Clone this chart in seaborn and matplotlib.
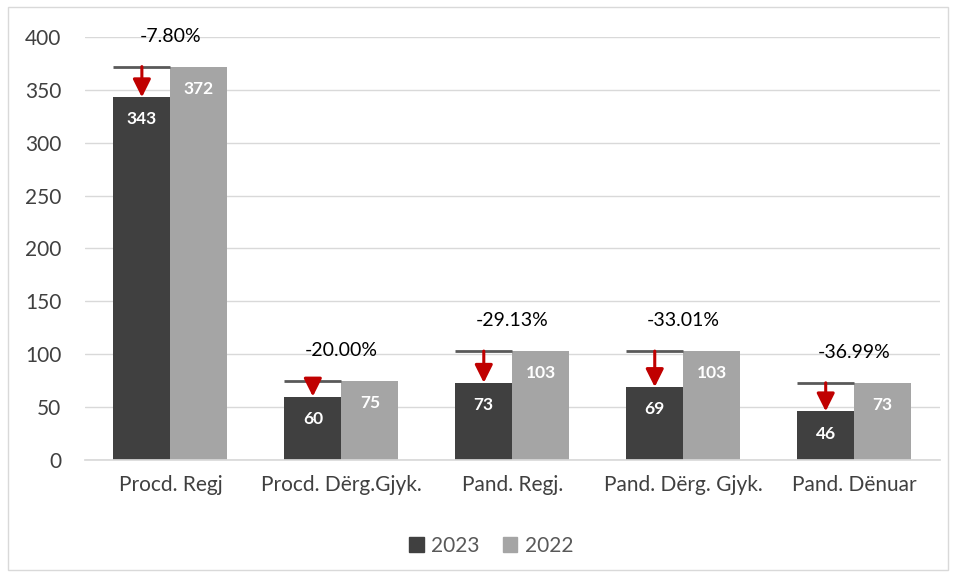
import matplotlib
matplotlib.use("Agg")
import matplotlib.pyplot as plt
from matplotlib.patches import Rectangle
import pandas as pd
import seaborn as sns

categories = ["Procd. Regj", "Procd. Dërg.Gjyk.", "Pand. Regj.", "Pand. Dërg. Gjyk.", "Pand. Dënuar"]
values_2023 = [343, 60, 73, 69, 46]
values_2022 = [372, 75, 103, 103, 73]
series = ["2023", "2022"]
colors = {"2023": "#404040", "2022": "#A5A5A5"}
y_ticks = [0, 50, 100, 150, 200, 250, 300, 350, 400]

df = pd.DataFrame({
    "category": categories * 2,
    "year": [series[0]] * len(categories) + [series[1]] * len(categories),
    "value": values_2023 + values_2022,
})

sns.set_theme(style="white")
plt.rcParams["font.family"] = ["Lato", "DejaVu Sans"]

fig = plt.figure(figsize=(9.54, 5.77), dpi=100)
ax = fig.add_axes([0.089, 0.2028, 0.896, 0.7331])

sns.barplot(data=df, x="category", y="value", hue="year", hue_order=series,
            palette=colors, width=0.667, saturation=1, ax=ax, legend=False,
            edgecolor="none", linewidth=0)

ax.set_ylim(0, 400)
ax.set_yticks(y_ticks)
ax.set_xlim(-0.5, len(categories) - 0.5)
ax.yaxis.grid(True, color="#D9D9D9", linewidth=1)
ax.set_axisbelow(True)
for s in ["top", "right", "left"]:
    ax.spines[s].set_visible(False)
ax.spines["bottom"].set_color("#D9D9D9")
ax.tick_params(axis="both", length=0, labelsize=15, colors="#404040")
ax.tick_params(axis="y", pad=17)
ax.tick_params(axis="x", pad=11)
ax.set_xlabel("")
ax.set_ylabel("")

bars_new = ax.containers[0]
bars_old = ax.containers[1]

for bar, v in zip(bars_new, values_2023):
    ax.annotate(f"{v}", (bar.get_x() + bar.get_width() / 2, v), xytext=(0, -16),
                textcoords="offset points", ha="center", va="center",
                color="white", fontweight="bold", fontsize=12.5)
for bar, v in zip(bars_old, values_2022):
    ax.annotate(f"{v}", (bar.get_x() + bar.get_width() / 2, v), xytext=(0, -16),
                textcoords="offset points", ha="center", va="center",
                color="white", fontweight="bold", fontsize=12.5)

# change markers: reference line at last year's level, arrow down to this year
for i, (bar, new, old) in enumerate(zip(bars_new, values_2023, values_2022)):
    x0 = bar.get_x()
    x1 = x0 + bar.get_width()
    xc = (x0 + x1) / 2
    ax.plot([x0, x1], [old, old], color="#595959", linewidth=2, solid_capstyle="butt", zorder=4)
    ax.annotate("", xy=(xc, new), xytext=(xc, old),
                arrowprops=dict(arrowstyle="-|>,head_width=0.3,head_length=0.6",
                                color="#C00000", lw=2.2, shrinkA=0, shrinkB=0,
                                mutation_scale=18), zorder=5)
    pct = (new - old) / old * 100
    ax.annotate(f"{pct:.2f}%", (i, old), xytext=(0, 22), textcoords="offset points",
                ha="center", va="center", color="#000000", fontsize=14)

handles = [Rectangle((0, 0), 1, 1, color=colors[s]) for s in series]
fig.legend(handles, series, loc="center", bbox_to_anchor=(0.515, 0.054), ncol=2,
           frameon=False, handlelength=0.7, handleheight=0.7, handletextpad=0.35,
           columnspacing=1.1, fontsize=15, labelcolor="#595959")

fig.patches.append(Rectangle((8 / 954, 7 / 577), 940 / 954, 563 / 577,
                             transform=fig.transFigure, fill=False,
                             edgecolor="#D9D9D9", linewidth=1))

fig.savefig("out.png", dpi=100, facecolor="white")
